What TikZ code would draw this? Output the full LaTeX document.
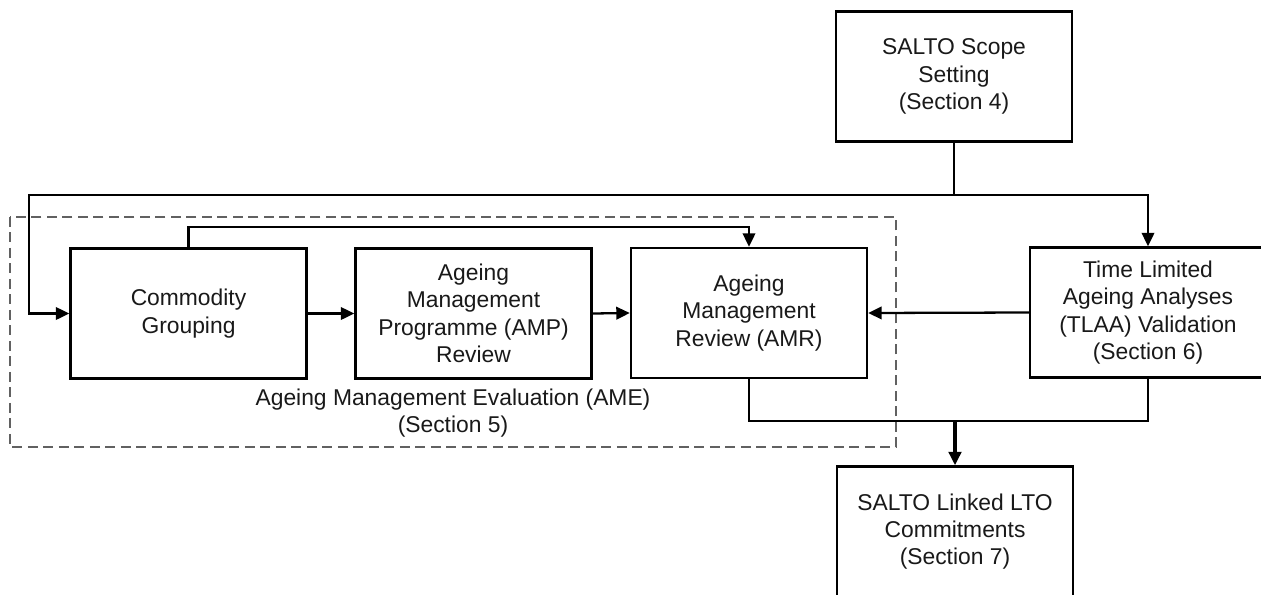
\documentclass[tikz,border=0pt]{standalone}
\usepackage{fontspec}
\setmainfont{Liberation Sans}
\usetikzlibrary{arrows.meta}
\begin{document}
\begin{tikzpicture}[x=0.02cm,y=-0.02cm,
  box/.style={draw=black,line width=1.4pt,inner sep=0pt,minimum width=4.72cm,minimum height=2.6cm,align=center,font=\fontsize{13pt}{15.6pt}\selectfont,text=black!90},
  conn/.style={draw=black,line width=1.3pt},
  arr/.style={conn,-{Triangle[length=0.27cm,width=0.25cm]}},
  grp/.style={draw=black!62,line width=1pt,dash pattern=on 0.2cm off 0.11cm},
  lbl/.style={align=center,font=\fontsize{13pt}{15.6pt}\selectfont,text=black!90,inner sep=0pt}]
\useasboundingbox (0,0) rectangle (1261,595);
\fill[white] (0,0) rectangle (1261,595);
% group
\draw[grp] (10,217) rectangle (896,447);
\node[lbl] (amelbl) at (453,413) {Ageing Management Evaluation (AME)\\(Section 5)};
% boxes
\node[box] (salto) at (954,76.5) {SALTO Scope\\Setting\\(Section 4)};
\node[box] (comm) at (188.5,313.5) {Commodity\\Grouping};
\node[box] (amp) at (473.5,313.5) {Ageing\\Management\\Programme (AMP)\\Review};
\node[box] (amr) at (749,313) {Ageing\\Management\\Review (AMR)};
\node[box] (tlaa) at (1148,312.5) {Time Limited\\Ageing Analyses\\(TLAA) Validation\\(Section 6)};
\node[box] (lto) at (955,531.5) {SALTO Linked LTO\\Commitments\\(Section 7)};
% junctions
\coordinate (j1) at (954,195);
\coordinate (lft) at (29,195);
\coordinate (j2) at (955,421);
% connectors
\draw[conn] (salto.south) -- (j1);
\draw[arr] (j1) -- (lft) |- (comm.west);
\draw[arr] (j1) -| (tlaa.north);
\draw[arr] (comm.north) -- ++(0,-20) -| (amr.north);
\draw[arr] (comm.east) -- (amp.west);
\draw[arr] (amp.east) -- (amr.west);
\draw[arr] (tlaa.west) -- (amr.east);
\draw[conn] (amr.south) |- (j2) -| (tlaa.south);
\draw[arr,line width=1.9pt] (j2) -- (lto.north);
\end{tikzpicture}
\end{document}
